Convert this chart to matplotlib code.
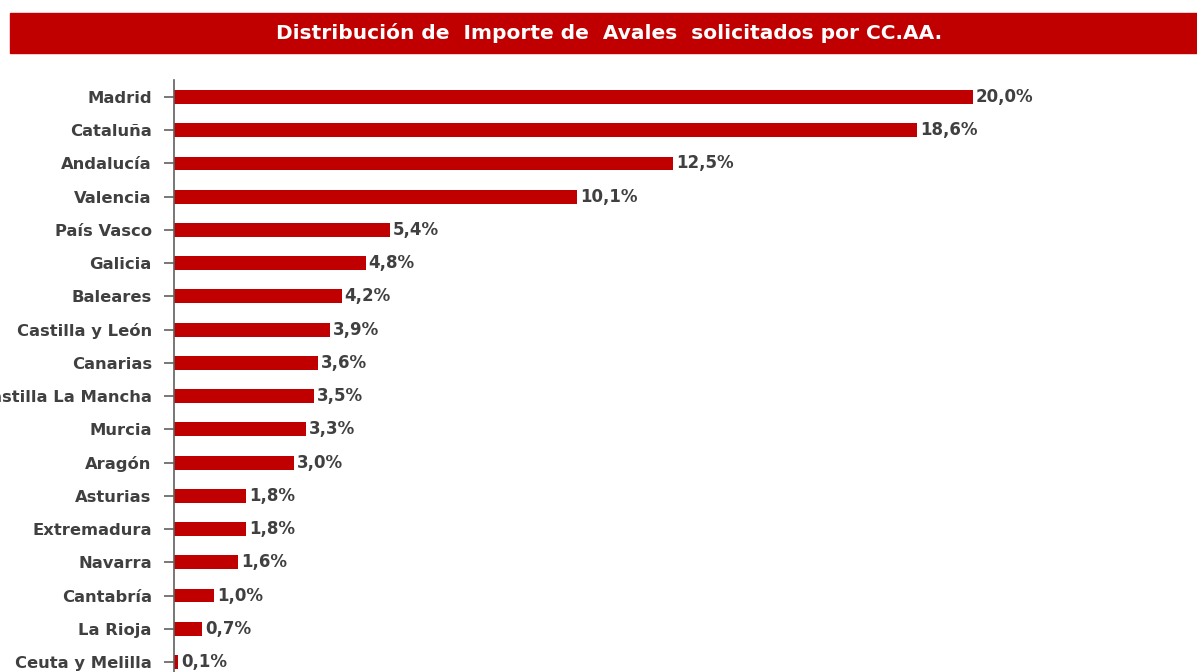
import matplotlib.pyplot as plt
from matplotlib.patches import Rectangle

plt.rcParams['font.family'] = ['DejaVu Sans']

regions = ['Madrid', 'Cataluña', 'Andalucía', 'Valencia', 'País Vasco', 'Galicia',
           'Baleares', 'Castilla y León', 'Canarias', 'Castilla La Mancha', 'Murcia',
           'Aragón', 'Asturias', 'Extremadura', 'Navarra', 'Cantabría', 'La Rioja',
           'Ceuta y Melilla']
shares = [20.0, 18.6, 12.5, 10.1, 5.4, 4.8, 4.2, 3.9, 3.6, 3.5, 3.3, 3.0, 1.8, 1.8,
          1.6, 1.0, 0.7, 0.1]

W, H = 1197, 672
fig = plt.figure(figsize=(W / 100, H / 100), dpi=100)

# red title band
fig.patches.append(Rectangle((10 / W, 1 - 53 / H), 1 - 10 / W, 40 / H,
                             transform=fig.transFigure, color='#C00000', zorder=0))
fig.text(609.5 / W, 1 - 33 / H, 'Distribución de  Importe de  Avales  solicitados por CC.AA.',
         color='white', fontsize=14.5, fontweight='bold', ha='center', va='center')

xmax = 25
ax = fig.add_axes([174 / W, 1 - 678.6 / H, xmax * 39.95 / W, 598.2 / H])
ypos = list(range(len(regions)))
ax.barh(ypos, shares, height=0.42, color='#C00000')
ax.set_xlim(0, xmax)
ax.set_ylim(len(regions) - 0.5, -0.5)
ax.set_yticks(ypos)
ax.set_yticklabels(regions, fontsize=11.8, fontweight='bold', color='#404040')
ax.tick_params(axis='y', length=7, width=1.2, color='#606060', pad=9)
ax.set_xticks([])
for s in ['top', 'right', 'bottom']:
    ax.spines[s].set_visible(False)
ax.spines['left'].set_color('#606060')
ax.spines['left'].set_linewidth(1.2)

for y, v in zip(ypos, shares):
    ax.text(v + 0.07, y, f'{v:.1f}%'.replace('.', ','), va='center', ha='left',
            fontsize=12, fontweight='bold', color='#404040')

fig.savefig('out.png', dpi=100)
